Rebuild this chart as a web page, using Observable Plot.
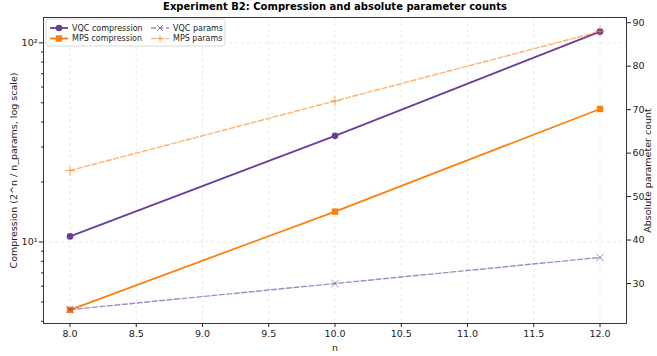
<!DOCTYPE html>
<html>
<head>
<meta charset="utf-8">
<script src="https://cdn.jsdelivr.net/npm/d3@7"></script>
<script src="https://cdn.jsdelivr.net/npm/@observablehq/plot@0.6"></script>
<style>
  body { margin: 0; background: white; }
  #wrap { position: relative; width: 657px; height: 356px; font-family: "DejaVu Sans", sans-serif; background: white; }
  #wrap svg.layer { position: absolute; left: 0; top: 0; }
  #title { position: absolute; z-index: 5; left: 43px; width: 584px; top: 1px; text-align: center; font-weight: bold; font-size: 10px; color: #000; }
</style>
</head>
<body>
<div id="wrap"><div id="title">Experiment B2: Compression and absolute parameter counts</div></div>
<script>
// ---- data ----
const nValues = [8, 10, 12];
const vqcCompression = [10.67, 34.13, 113.78];
const mpsCompression = [4.57, 14.22, 46.55];
const vqcParams = [24, 30, 36];
const mpsParams = [56, 72, 88];
const xTicks = [8, 8.5, 9, 9.5, 10, 10.5, 11, 11.5, 12];
const leftMajorTicks = [10, 100];
const leftMinorTicks = [4, 5, 6, 7, 8, 9, 20, 30, 40, 50, 60, 70, 80, 90];
const rightTicks = [30, 40, 50, 60, 70, 80, 90];

const W = 657, H = 356;
const M = {top: 17, bottom: 33, left: 43, right: 31};
const purple = "#6a3d9a", orange = "#ff7f0e";
const font = "DejaVu Sans";

const comp = nValues.map((n, i) => ({n, vqc: vqcCompression[i], mps: mpsCompression[i]}));
const pars = nValues.map((n, i) => ({n, vqc: vqcParams[i], mps: mpsParams[i]}));

const xScale = {domain: [7.8, 12.2]};
const gridStyle = {stroke: "#b0b0b0", strokeOpacity: 0.4, strokeDasharray: "3,3", strokeWidth: 0.7};

const p1 = Plot.plot({
  width: W, height: H,
  marginTop: M.top, marginBottom: M.bottom, marginLeft: M.left, marginRight: M.right,
  style: {fontFamily: font, fontSize: "9.5px", background: "none", color: "#222"},
  x: xScale,
  y: {type: "log", domain: [3.9, 134]},
  marks: [
    Plot.gridX(xTicks, gridStyle),
    Plot.gridY(leftMajorTicks, gridStyle),
    Plot.axisX(xTicks, {tickSize: 4, tickPadding: 3, tickFormat: d3.format(".1f"), label: "n", labelAnchor: "center", labelArrow: "none", labelOffset: 27, fontSize: 9.5}),
    Plot.axisY(leftMajorTicks, {tickSize: 4, tickPadding: 2, tickFormat: d => d === 10 ? "10¹" : "10²", label: "Compression (2^n / n_params, log scale)", labelAnchor: "center", labelArrow: "none", labelOffset: 33, fontSize: 9.5}),
    Plot.axisY(leftMinorTicks, {tickSize: 2, tickFormat: () => "", label: null}),
    Plot.line(comp, {x: "n", y: "vqc", stroke: purple, strokeWidth: 1.8}),
    Plot.dot(comp, {x: "n", y: "vqc", fill: purple, r: 3.3, symbol: "circle"}),
    Plot.line(comp, {x: "n", y: "mps", stroke: orange, strokeWidth: 1.8}),
    Plot.dot(comp, {x: "n", y: "mps", fill: orange, r: 3.6, symbol: "square"}),
    Plot.frame({stroke: "#222", strokeWidth: 0.9})
  ]
});
p1.classList.add("layer");

const p2 = Plot.plot({
  width: W, height: H,
  marginTop: M.top, marginBottom: M.bottom, marginLeft: M.left, marginRight: M.right,
  style: {fontFamily: font, fontSize: "9.5px", background: "none", color: "#222"},
  x: {...xScale, axis: null},
  y: {domain: [20.8, 91.2]},
  marks: [
    Plot.axisY(rightTicks, {anchor: "right", tickSize: 4, tickPadding: 2, label: "Absolute parameter count", labelAnchor: "center", labelArrow: "none", labelOffset: 24, fontSize: 9.5}),
    Plot.line(pars, {x: "n", y: "vqc", stroke: purple, strokeOpacity: 0.6, strokeWidth: 1.4, strokeDasharray: "5,2.5"}),
    Plot.dot(pars, {x: "n", y: "vqc", stroke: purple, strokeOpacity: 0.6, r: 3.5, symbol: "times", strokeWidth: 1}),
    Plot.line(pars, {x: "n", y: "mps", stroke: orange, strokeOpacity: 0.6, strokeWidth: 1.4, strokeDasharray: "5,2.5"}),
    Plot.dot(pars, {x: "n", y: "mps", stroke: orange, strokeOpacity: 0.6, r: 3.5, symbol: "plus", strokeWidth: 1})
  ]
});
p2.classList.add("layer");

const wrap = document.getElementById("wrap");
wrap.appendChild(p1);
wrap.appendChild(p2);

// ---- legend ----
const legendItems = [
  {label: "VQC compression", color: purple, dash: null, op: 1, sym: "circle", col: 0, row: 0},
  {label: "MPS compression", color: orange, dash: null, op: 1, sym: "square", col: 0, row: 1},
  {label: "VQC params", color: purple, dash: "5,2.5", op: 0.6, sym: "times", col: 1, row: 0},
  {label: "MPS params", color: orange, dash: "5,2.5", op: 0.6, sym: "plus", col: 1, row: 1}
];
const lg = d3.create("svg").attr("class", "layer").attr("width", W).attr("height", H)
  .style("pointer-events", "none");
lg.append("rect").attr("x", 46).attr("y", 19).attr("width", 179).attr("height", 27)
  .attr("rx", 2).attr("fill", "white").attr("fill-opacity", 0.85).attr("stroke", "#d0d0d0").attr("stroke-width", 0.8);
const colX = [50, 151];
const rowY = [28, 38.5];
for (const it of legendItems) {
  const x0 = colX[it.col], y0 = rowY[it.row];
  const g = lg.append("g");
  g.append("line").attr("x1", x0).attr("x2", x0 + 18).attr("y1", y0).attr("y2", y0)
    .attr("stroke", it.color).attr("stroke-width", it.dash ? 1.4 : 1.8)
    .attr("stroke-opacity", it.op).attr("stroke-dasharray", it.dash);
  const cx = x0 + 9;
  if (it.sym === "circle") g.append("circle").attr("cx", cx).attr("cy", y0).attr("r", 3.3).attr("fill", it.color);
  if (it.sym === "square") g.append("rect").attr("x", cx - 3.2).attr("y", y0 - 3.2).attr("width", 6.4).attr("height", 6.4).attr("fill", it.color);
  if (it.sym === "times") g.append("path").attr("d", `M${cx-3},${y0-3}L${cx+3},${y0+3}M${cx-3},${y0+3}L${cx+3},${y0-3}`).attr("stroke", it.color).attr("stroke-opacity", it.op);
  if (it.sym === "plus") g.append("path").attr("d", `M${cx-3.5},${y0}L${cx+3.5},${y0}M${cx},${y0-3.5}L${cx},${y0+3.5}`).attr("stroke", it.color).attr("stroke-opacity", it.op);
  g.append("text").attr("x", x0 + 22).attr("y", y0).attr("dy", "0.35em")
    .attr("font-family", font).attr("font-size", 8).attr("fill", "#222").text(it.label);
}
wrap.appendChild(lg.node());
</script>
</body>
</html>
